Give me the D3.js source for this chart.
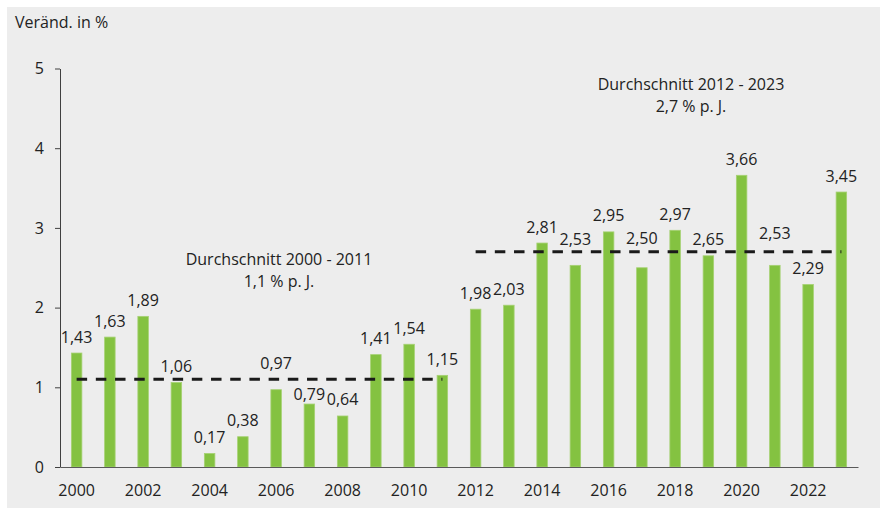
<!DOCTYPE html>
<html>
<head>
<meta charset="utf-8">
<script src="https://cdn.jsdelivr.net/npm/d3@7"></script>
<style>
  html, body { margin: 0; padding: 0; background: #ffffff; }
  svg { display: block; }
  text { font-family: "Open Sans", "Noto Sans", sans-serif; fill: #222222; }
</style>
</head>
<body>
<svg id="chart" width="880" height="511"></svg>
<script>
// ---- data ----
const years = [2000, 2001, 2002, 2003, 2004, 2005, 2006, 2007, 2008, 2009, 2010, 2011,
               2012, 2013, 2014, 2015, 2016, 2017, 2018, 2019, 2020, 2021, 2022, 2023];
const values = [1.43, 1.63, 1.89, 1.06, 0.17, 0.38, 0.97, 0.79, 0.64, 1.41, 1.54, 1.15,
                1.98, 2.03, 2.81, 2.53, 2.95, 2.50, 2.97, 2.65, 3.66, 2.53, 2.29, 3.45];
const yTicks = [0, 1, 2, 3, 4, 5];
const xTickYears = [2000, 2002, 2004, 2006, 2008, 2010, 2012, 2014, 2016, 2018, 2020, 2022];
const averages = [
  { from: 2000, to: 2011, value: 1.1, title: "Durchschnitt 2000 - 2011", sub: "1,1 % p. J." },
  { from: 2012, to: 2023, value: 2.7, title: "Durchschnitt 2012 - 2023", sub: "2,7 % p. J." }
];
const yAxisTitle = "Veränd. in %";

// ---- layout (label nudges, not data) ----
const labelNudge = { 2006: -10, 2007: 6, 2015: -10, 2017: -13, 2021: -16 };
const annotationPos = [ { x: 279, y: 265 }, { x: 691, y: 90 } ];
const FS = 16;

const svg = d3.select("#chart");
svg.append("rect").attr("x", 7).attr("y", 7).attr("width", 873).attr("height", 501)
   .attr("fill", "#ededed");

const x = d3.scaleBand().domain(years).range([60, 858]).paddingInner(0.684).paddingOuter(0.342);
const y = d3.scaleLinear().domain([0, 5]).range([467, 68.5]);
const fmt = v => d3.format(".2f")(v).replace(".", ",");

// bars
svg.append("g").selectAll("rect").data(years).join("rect")
  .attr("x", d => x(d))
  .attr("width", x.bandwidth())
  .attr("y", (d, i) => y(values[i]))
  .attr("height", (d, i) => y(0) - y(values[i]))
  .attr("fill", "#84c241")
  .attr("stroke", "#a6d173")
  .attr("stroke-width", 0.8);

// average dashed lines
svg.append("g").selectAll("line").data(averages).join("line")
  .attr("x1", d => x(d.from) + x.bandwidth() / 2)
  .attr("x2", d => x(d.to) + x.bandwidth() / 2)
  .attr("y1", d => y(d.value))
  .attr("y2", d => y(d.value))
  .attr("stroke", "#1a1a1a")
  .attr("stroke-width", 3)
  .attr("stroke-dasharray", "10.5,8.7");

// value labels
svg.append("g").selectAll("text").data(years).join("text")
  .attr("x", d => x(d) + x.bandwidth() / 2)
  .attr("y", (d, i) => y(values[i]) - 10.5 + (labelNudge[d] || 0))
  .attr("text-anchor", "middle")
  .attr("font-size", FS)
  .text((d, i) => fmt(values[i]));

// y axis
const yAxis = svg.append("g").attr("transform", "translate(60,0)")
  .call(d3.axisLeft(y).tickValues(yTicks).tickSize(5).tickSizeOuter(0).tickPadding(11)
        .tickFormat(d3.format("d")));
yAxis.select(".domain").attr("stroke", "#404040");
yAxis.selectAll(".tick line").attr("stroke", "#404040");
yAxis.selectAll(".tick text").attr("font-size", FS).attr("fill", "#222222")
  .style("font-family", "'Open Sans', 'Noto Sans', sans-serif");

// x axis
const xAxis = svg.append("g").attr("transform", `translate(0,${y(0)})`)
  .call(d3.axisBottom(x).tickValues(xTickYears).tickSize(0).tickSizeOuter(0).tickPadding(18));
xAxis.select(".domain").attr("stroke", "#595959");
xAxis.selectAll(".tick text").attr("font-size", FS).attr("fill", "#222222")
  .style("font-family", "'Open Sans', 'Noto Sans', sans-serif");

// annotations
averages.forEach((a, i) => {
  svg.append("text").attr("text-anchor", "middle").attr("font-size", FS)
    .attr("x", annotationPos[i].x).attr("y", annotationPos[i].y)
    .text(a.title);
  svg.append("text").attr("text-anchor", "middle").attr("font-size", FS)
    .attr("x", annotationPos[i].x).attr("y", annotationPos[i].y + 22)
    .text(a.sub);
});

// y-axis title
svg.append("text").attr("x", 15).attr("y", 28).attr("font-size", FS).text(yAxisTitle);
</script>
</body>
</html>
